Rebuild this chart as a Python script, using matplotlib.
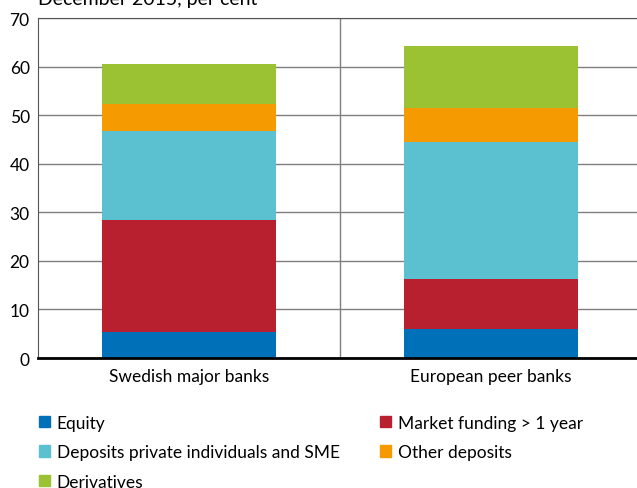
import matplotlib.pyplot as plt
import numpy as np
from matplotlib.patches import Patch

plt.rcParams['font.family'] = ['Lato', 'DejaVu Sans']

banks = ['Swedish major banks', 'European peer banks']
equity = [5.35, 6.0]
market_funding = [23.05, 10.3]
deposits_private = [18.3, 28.2]
other_deposits = [5.6, 6.9]
derivatives = [8.2, 12.9]

series = [
    ('Equity', equity, '#0071b9'),
    ('Market funding > 1 year', market_funding, '#b81f2f'),
    ('Deposits private individuals and SME', deposits_private, '#5bc0d0'),
    ('Other deposits', other_deposits, '#f59a00'),
    ('Derivatives', derivatives, '#9bc232'),
]

fig = plt.figure(figsize=(6.37, 4.89), dpi=100)
ax = fig.add_axes([38 / 637, 1 - 359 / 489, 604 / 637, 340 / 489])

x = np.arange(len(banks))
bottom = np.zeros(len(banks))
for name, vals, col in series:
    ax.bar(x, vals, width=0.573, bottom=bottom, color=col, zorder=3)
    bottom += np.array(vals)

ax.set_xlim(-0.5, 1.5)
ax.set_ylim(0, 70)
ax.set_yticks(range(0, 71, 10))
ax.yaxis.grid(True, color='#7f7f7f', linewidth=1, zorder=0)
ax.axvline(0.5, color='#7f7f7f', linewidth=1, zorder=1)

ax.spines['right'].set_visible(False)
ax.spines['top'].set_color('#555555')
ax.spines['left'].set_color('#555555')
ax.spines['bottom'].set_linewidth(2)
ax.spines['bottom'].set_zorder(4)

ax.set_xticks(x)
ax.set_xticklabels(banks, fontsize=12.5)
ax.tick_params(axis='y', labelsize=12.5, length=0, pad=6)
ax.tick_params(axis='x', length=0, pad=7)

fig.text(38 / 637, 1.0, 'December 2015, per cent', fontsize=14,
         ha='left', va='center')

handles = [Patch(color=col, label=name) for name, _, col in series]
order = [0, 2, 4, 1, 3]
leg = fig.legend([handles[i] for i in order], [series[i][0] for i in order],
                 ncol=2, loc='upper left', bbox_to_anchor=(23 / 637, 1 - 400 / 489),
                 frameon=False, fontsize=12.5, handlelength=0.65, handleheight=0.65,
                 handletextpad=0.4, labelspacing=0.78, columnspacing=2.3)

fig.savefig('out.png', dpi=100)
